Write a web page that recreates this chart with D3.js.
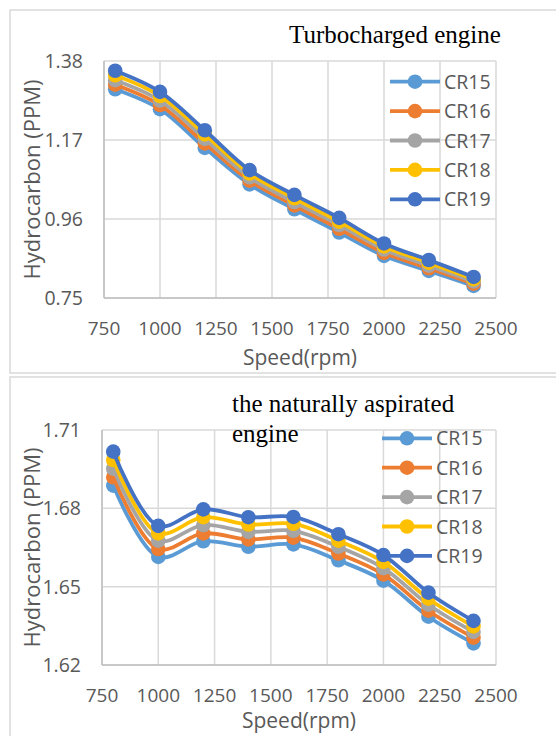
<!DOCTYPE html>
<html>
<head>
<meta charset="utf-8">
<script src="https://cdn.jsdelivr.net/npm/d3@7"></script>
<style>
  body { margin: 0; background: #fff; }
  svg { display: block; }
</style>
</head>
<body>
<svg id="chart" width="556" height="736"></svg>
<script>
const speeds = [800, 1000, 1200, 1400, 1600, 1800, 2000, 2200, 2400];
const seriesNames = ["CR15", "CR16", "CR17", "CR18", "CR19"];
const colors = ["#5B9BD5", "#ED7D31", "#A5A5A5", "#FFC000", "#4472C4"];
const xTicks = [750, 1000, 1250, 1500, 1750, 2000, 2250, 2500];

// turbocharged engine
const turboTicks = [0.75, 0.96, 1.17, 1.38];
const turboCR15 = [1.305, 1.252, 1.149, 1.052, 0.986, 0.924, 0.862, 0.822, 0.782];
const turboCR16 = [1.317, 1.263, 1.161, 1.062, 0.996, 0.934, 0.870, 0.829, 0.788];
const turboCR17 = [1.329, 1.275, 1.173, 1.071, 1.005, 0.944, 0.879, 0.836, 0.794];
const turboCR18 = [1.342, 1.287, 1.185, 1.081, 1.015, 0.953, 0.887, 0.844, 0.800];
const turboCR19 = [1.354, 1.298, 1.196, 1.090, 1.024, 0.963, 0.895, 0.851, 0.806];

// naturally aspirated engine
const naTicks = [1.62, 1.65, 1.68, 1.71];
const naCR15 = [1.6887, 1.6614, 1.6674, 1.6653, 1.6662, 1.6601, 1.6523, 1.6385, 1.6283];
const naCR16 = [1.6919, 1.6644, 1.6704, 1.6681, 1.6688, 1.6627, 1.6547, 1.6408, 1.6305];
const naCR17 = [1.6952, 1.6676, 1.6736, 1.6710, 1.6714, 1.6653, 1.6571, 1.6431, 1.6327];
const naCR18 = [1.6985, 1.6704, 1.6766, 1.6738, 1.6741, 1.6676, 1.6595, 1.6454, 1.6348];
const naCR19 = [1.7017, 1.6733, 1.6796, 1.6766, 1.6767, 1.6701, 1.6621, 1.6477, 1.6369];

const svg = d3.select("#chart");
const sans = "'Open Sans', sans-serif";
const grey = "#595959";

function drawChart(o) {
  const g = svg.append("g");

  // panel frame
  g.append("rect")
    .attr("x", o.frame[0]).attr("y", o.frame[1])
    .attr("width", o.frame[2]).attr("height", o.frame[3])
    .attr("fill", "#fff").attr("stroke", "#d9d9d9").attr("stroke-width", 1.5);

  const x = d3.scaleLinear().domain([750, 2500]).range([o.left, o.right]);
  const y = d3.scaleLinear().domain([o.ticks[0], o.ticks[o.ticks.length - 1]]).range([o.bottom, o.top]);

  // gridlines
  g.append("g").selectAll("line").data(xTicks).join("line")
    .attr("x1", d => x(d)).attr("x2", d => x(d))
    .attr("y1", o.top).attr("y2", o.bottom)
    .attr("stroke", "#d9d9d9").attr("stroke-width", 1.5);
  g.append("g").selectAll("line").data(o.ticks).join("line")
    .attr("x1", o.left).attr("x2", o.right)
    .attr("y1", d => y(d)).attr("y2", d => y(d))
    .attr("stroke", "#d9d9d9").attr("stroke-width", 1.5);

  // axis lines
  g.append("line").attr("x1", o.left).attr("x2", o.left).attr("y1", o.top).attr("y2", o.bottom)
    .attr("stroke", "#bfbfbf").attr("stroke-width", 1.5);
  g.append("line").attr("x1", o.left).attr("x2", o.right).attr("y1", o.bottom).attr("y2", o.bottom)
    .attr("stroke", "#bfbfbf").attr("stroke-width", 1.5);

  // tick labels
  g.append("g").selectAll("text").data(o.ticks).join("text")
    .attr("x", o.left - 21).attr("y", d => y(d)).attr("dy", "0.36em")
    .attr("text-anchor", "end")
    .attr("font-family", sans).attr("font-size", 19.5).attr("fill", grey)
    .text(d => d.toFixed(2));
  g.append("g").selectAll("text").data(xTicks).join("text")
    .attr("x", d => x(d)).attr("y", o.bottom + 37)
    .attr("text-anchor", "middle")
    .attr("font-family", sans).attr("font-size", 19).attr("fill", grey)
    .text(d => d);

  // axis titles
  g.append("text")
    .attr("x", (o.left + o.right) / 2).attr("y", o.bottom + o.xTitleDy)
    .attr("text-anchor", "middle")
    .attr("font-family", sans).attr("font-size", 21).attr("fill", grey)
    .text("Speed(rpm)");
  g.append("text")
    .attr("transform", `translate(40,${(o.top + o.bottom) / 2}) rotate(-90)`)
    .attr("text-anchor", "middle")
    .attr("font-family", sans).attr("font-size", 22).attr("fill", grey)
    .text("Hydrocarbon (PPM)");

  // chart title
  const title = g.append("text")
    .attr("font-family", "'Liberation Serif', 'Times New Roman', serif")
    .attr("font-size", o.titleSize).attr("fill", "#000");
  o.title.forEach((t, i) => {
    title.append("tspan").attr("x", o.titleX).attr("y", o.titleY + i * 30).text(t);
  });

  // series
  const line = d3.line()
    .x((d, i) => x(speeds[i]))
    .y(d => y(d))
    .curve(d3.curveCatmullRom.alpha(0.5));

  o.series.forEach((vals, si) => {
    const s = g.append("g");
    s.append("path")
      .attr("d", line(vals))
      .attr("fill", "none").attr("stroke", colors[si]).attr("stroke-width", 3.8)
      .attr("stroke-linejoin", "round");
    s.selectAll("circle").data(vals).join("circle")
      .attr("cx", (d, i) => x(speeds[i])).attr("cy", d => y(d))
      .attr("r", 7.3).attr("fill", colors[si]);
  });

  // legend
  const lg = g.append("g");
  seriesNames.forEach((name, i) => {
    const ly = o.legendY + i * 29.4;
    lg.append("line")
      .attr("x1", o.legendX).attr("x2", o.legendX + 50)
      .attr("y1", ly).attr("y2", ly)
      .attr("stroke", colors[i]).attr("stroke-width", 3.8);
    lg.append("circle").attr("cx", o.legendX + 25).attr("cy", ly).attr("r", 7.3).attr("fill", colors[i]);
    lg.append("text")
      .attr("x", o.legendX + 54).attr("y", ly).attr("dy", "0.36em")
      .attr("font-family", sans).attr("font-size", 19.5).attr("fill", grey)
      .text(name);
  });
}

drawChart({
  frame: [10, 10, 560, 363],
  left: 104, right: 496, top: 61, bottom: 298,
  ticks: turboTicks,
  series: [turboCR15, turboCR16, turboCR17, turboCR18, turboCR19],
  title: ["Turbocharged engine"], titleX: 289, titleY: 43, titleSize: 25,
  legendX: 390, legendY: 81.7, xTitleDy: 67
});

drawChart({
  frame: [10, 377, 560, 380],
  left: 102, right: 496, top: 430, bottom: 665,
  ticks: naTicks,
  series: [naCR15, naCR16, naCR17, naCR18, naCR19],
  title: ["the naturally aspirated", "engine"], titleX: 232, titleY: 412, titleSize: 25,
  legendX: 382, legendY: 438.3, xTitleDy: 63
});
</script>
</body>
</html>
